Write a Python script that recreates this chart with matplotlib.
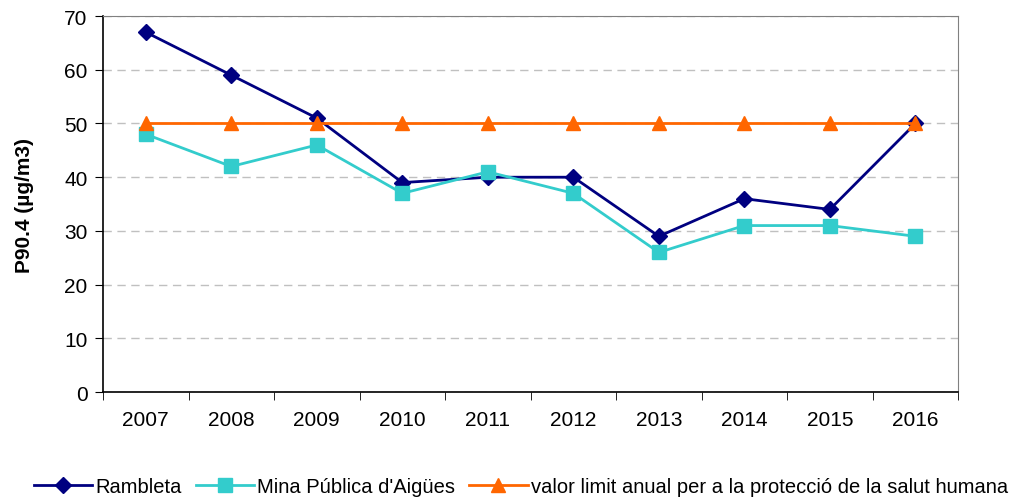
import matplotlib.pyplot as plt
import numpy as np

plt.rcParams['font.family'] = ['Liberation Sans', 'DejaVu Sans']

years = ['2007', '2008', '2009', '2010', '2011', '2012', '2013', '2014', '2015', '2016']
rambleta = [67, 59, 51, 39, 40, 40, 29, 36, 34, 50]
mina = [48, 42, 46, 37, 41, 37, 26, 31, 31, 29]
limit = [50, 50, 50, 50, 50, 50, 50, 50, 50, 50]

fig = plt.figure(figsize=(10.15, 5.02), dpi=100)
ax = fig.add_axes([0.1015, 0.217, 0.8425, 0.749])

x = np.arange(len(years))
ax.plot(x, rambleta, color='#000080', marker='D', markersize=8, linewidth=2, label='Rambleta', zorder=3)
ax.plot(x, mina, color='#33CCCC', marker='s', markersize=10, linewidth=2, label="Mina Pública d'Aigües", zorder=3)
ax.plot(x, limit, color='#FF6600', marker='^', markersize=10, linewidth=2,
        label='valor limit anual per a la protecció de la salut humana', zorder=4)

ax.set_xlim(-0.5, len(years) - 0.5)
ax.set_ylim(0, 70)
ax.set_yticks(range(0, 71, 10))
ax.set_xticks(x)
ax.set_xticklabels(years)
ax.set_xticks(np.arange(-0.5, len(years), 1), minor=True)
ax.tick_params(axis='x', which='major', length=0, pad=13, labelsize=15)
ax.tick_params(axis='x', which='minor', length=6, direction='out')
ax.tick_params(axis='y', length=6, labelsize=15, pad=5)

ax.grid(axis='y', color='#c0c0c0', linestyle=(0, (6, 4)), linewidth=1)
ax.set_axisbelow(True)
ax.spines['top'].set_color('#808080')
ax.spines['right'].set_color('#808080')
ax.spines['left'].set_linewidth(1.2)
ax.spines['bottom'].set_linewidth(1.2)

ax.set_ylabel('P90.4 (µg/m3)', fontsize=15, fontweight='bold', labelpad=22)

fig.legend(loc='center', bbox_to_anchor=(0.513, 0.028), ncol=3, frameon=False,
           fontsize=14.5, handlelength=2.9, handletextpad=0.15, columnspacing=0.7)

fig.savefig('out.png', dpi=100)
